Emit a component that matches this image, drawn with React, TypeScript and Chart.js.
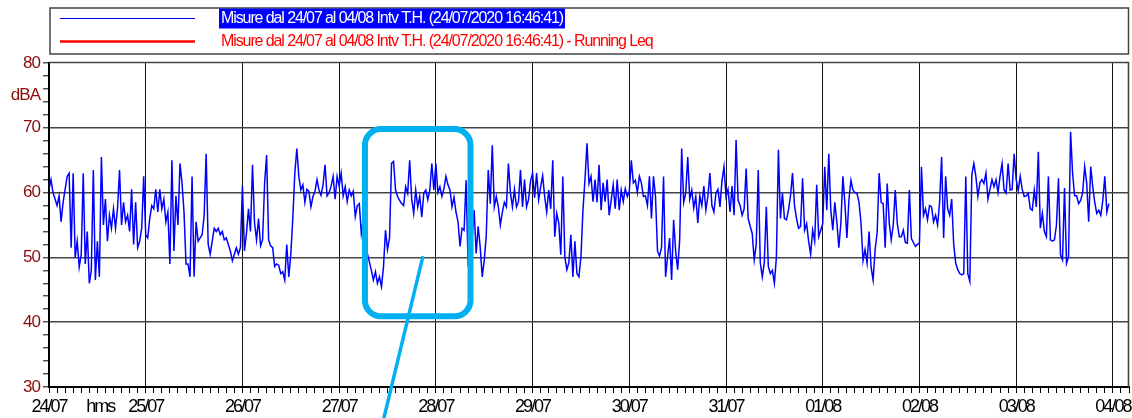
import React, { useEffect, useRef } from 'react';
import { Chart, registerables } from 'chart.js';

Chart.register(...registerables);

// ---- labels ----
const dayLabels = ['24/07', '25/07', '26/07', '27/07', '28/07', '29/07', '30/07', '31/07', '01/08', '02/08', '03/08', '04/08'];
const seriesLabel = 'Misure dal 24/07 al 04/08 Intv T.H. (24/07/2020 16:46:41)';
const runningLabel = 'Misure dal 24/07 al 04/08 Intv T.H. (24/07/2020 16:46:41) - Running Leq';
const yUnit = 'dBA';
const xUnit = 'hms';
const yMin = 30;
const yMax = 80;
const hoursMax = 268;
const stepHours = 0.5;

// ---- measured levels (dBA), one value every 30 minutes, per day ----
const d2407 = [60.5, 62, 60, 59, 58, 59.5, 55.5, 58.5, 60.5, 62.5, 63, 51.5, 63, 50, 52.5, 48.5, 50.5, 63, 49, 54, 46, 48, 63.5, 46.5, 52.5, 47, 65.5, 55, 59, 52.5, 56.5, 54.5, 57.5, 54.5, 57.5, 63.5, 55, 58.5, 55.5, 56.5, 54, 60.5, 52, 58.5, 51.5, 52.5, 54.5, 62.5];
const d2507 = [53.5, 53, 56, 58, 57.5, 60.5, 57, 60.5, 57.5, 59, 55.5, 57, 49, 65, 51, 59.5, 55, 64.5, 61.5, 57, 49, 49, 47, 62.5, 47, 55.5, 52.5, 53, 53.5, 56.5, 66, 52, 50.5, 52.5, 54.5, 54, 54.5, 53.5, 54, 52.7, 53, 52, 51, 49.5, 50.5, 51.5, 50.5, 51.5];
const d2607 = [61, 51, 53.7, 57.5, 54, 64.3, 55.3, 52.7, 56, 51.8, 52.7, 61.4, 65.8, 52.7, 51.8, 51.5, 48.6, 49, 48.8, 47.5, 47.8, 46.5, 52, 47, 50.5, 56, 63, 66.8, 62.5, 60.4, 61.2, 58.5, 60.5, 60.2, 57.8, 59.4, 60.2, 62, 60.4, 59.6, 61.2, 64.3, 59.5, 60, 61, 62.5, 59, 62.5];
const d2707 = [61, 63, 59.5, 60.9, 58.6, 60.4, 59.5, 60.2, 56.3, 58, 58.3, 53.7, 56, 58.9, 50.6, 49.3, 48, 46.5, 47.8, 46, 47, 45.5, 48.5, 54.2, 51.2, 53, 64.5, 64.8, 60.4, 59.4, 58.8, 58.3, 58, 60.9, 59.9, 65, 59, 56.8, 60.4, 57.8, 59.4, 56.2, 59.9, 60.4, 58.9, 60.4, 64.5, 60.4];
const d2807 = [64.5, 60, 60.9, 59.4, 60.6, 62.5, 61.2, 60.4, 57.8, 59.3, 57, 55.5, 51.7, 54.5, 54.2, 61.9, 48.6, 52, 53, 57.3, 50.6, 54.8, 51.6, 47, 49.5, 53.3, 63.5, 58.3, 67.3, 57.8, 59.4, 57.8, 55, 57, 58.5, 57.8, 64.5, 60, 57.8, 60.5, 57.8, 58.6, 63.5, 57.8, 62, 57.8, 58.9, 61.8];
const d2907 = [63, 59.2, 63, 58.9, 60.9, 62.6, 59.4, 57, 60.4, 57.5, 65, 53.2, 56.8, 55.3, 50.4, 62.5, 50.1, 48.1, 49.2, 53.5, 47, 52.5, 47.5, 47, 50.1, 57.3, 62, 67.6, 61.4, 62.5, 58.6, 62, 58.5, 64.3, 57.3, 61.5, 58.6, 62, 56.5, 58.8, 61.2, 57.5, 62, 57.3, 60.4, 58.6, 60.6, 59.4];
const d3007 = [60.2, 65, 61.5, 61.9, 60, 62.5, 61.5, 59.4, 59.5, 58, 62.5, 56, 62.5, 59.4, 51, 50.2, 51.5, 62.5, 47, 50.1, 53, 46.5, 55.8, 51, 48.1, 52.7, 66.8, 58.5, 59.9, 65.5, 59, 60.4, 57.6, 59.4, 55.3, 59.5, 58, 61, 57.3, 59.4, 63, 58, 57, 59.9, 60.5, 57.8, 61.8, 64];
const d3107 = [59.4, 60.5, 57, 61, 56.5, 68.1, 58.8, 58, 56.5, 57.5, 63.7, 56, 54.8, 53.7, 49.6, 52, 63.5, 49.2, 47, 49.2, 57.8, 48.6, 47.5, 48, 46, 50, 66.6, 56, 59.9, 56, 55.8, 57.3, 59.5, 63, 58, 56, 54.5, 54.8, 62.2, 54.2, 55.2, 52.5, 50.5, 54.2, 52.5, 61.2, 53.2, 54.2];
const d0108 = [55.2, 64, 57.3, 66, 57.3, 54.2, 58.5, 55.5, 51.5, 55.3, 62.5, 58.3, 53, 58.9, 61.9, 60.4, 60, 59.9, 58.5, 55.3, 49.5, 51.2, 49.1, 54, 48.5, 46.5, 51.2, 53.8, 63, 58.5, 58.3, 51.5, 61.4, 55.3, 52.7, 55, 60.4, 55.2, 53.2, 53.2, 54.2, 52.3, 52.2, 60.4, 52.9, 52.3, 51.7, 52];
const d0208 = [52.2, 64, 56.5, 57.5, 55.8, 58, 57.8, 55.5, 56.5, 55, 58.5, 65.5, 53, 62.5, 57.5, 56.5, 59, 52, 49.1, 48.1, 47.5, 47.3, 47.5, 62.5, 47.5, 46.3, 62.8, 64.5, 62.5, 59.4, 61.5, 62, 61.4, 63, 59, 60.5, 62, 60.9, 62, 60, 62.5, 64.5, 60.4, 59.9, 64.5, 60.4, 60.5, 66];
const d0308 = [62, 60.3, 62.5, 60.5, 59.4, 59.5, 59.9, 57.5, 57.3, 60.4, 57.8, 66.3, 54.5, 56.8, 54, 53.2, 62.5, 52.7, 52.5, 52.7, 55, 62.2, 50.4, 49.6, 60.7, 49.1, 50.1, 69.4, 63, 59.5, 59.5, 58.3, 58.8, 60, 64, 61.5, 55.5, 64, 60.9, 58.5, 56.8, 57.3, 56.5, 58.8, 62.5, 57, 58.3];
const runningLeq: number[] = [];

// ---- callout (in data units: hours, dBA) ----
const calloutHours = [78.4, 104.6];
const calloutDb = [69.8, 40.9];
const pointerHours = [92.8, 83.1];
const pointerDb = [50.2, 25.2];

const allDays = [d2407, d2507, d2607, d2707, d2807, d2907, d3007, d3107, d0108, d0208, d0308];
const levels = allDays.flat();
const points = levels.map((v, i) => ({ x: i * stepHours, y: v }));

const FONT = '"Liberation Sans", Arial, Helvetica, sans-serif';

const decorPlugin = {
  id: 'decor',
  beforeDraw(chart: any) {
    chart.ctx.letterSpacing = '-2px';
  },
  afterDatasetsDraw(chart: any) {
    chart.ctx.letterSpacing = '-1px';
  },
  afterDraw(chart: any) {
    const ctx = chart.ctx as CanvasRenderingContext2D & { letterSpacing: string };
    const a = chart.chartArea;
    const xs = chart.scales.x;
    const ys = chart.scales.y;
    ctx.save();

    // frame (top / right)
    ctx.strokeStyle = '#444';
    ctx.lineWidth = 1.6;
    ctx.beginPath();
    ctx.moveTo(a.left, a.top - 0.5);
    ctx.lineTo(a.right - 0.5, a.top - 0.5);
    ctx.lineTo(a.right - 0.5, a.bottom);
    ctx.stroke();

    // unit labels
    ctx.letterSpacing = '-1px';
    ctx.font = `17px ${FONT}`;
    ctx.fillStyle = '#8b0a0a';
    ctx.textAlign = 'right';
    ctx.textBaseline = 'middle';
    ctx.fillText(yUnit, a.left - 9, ys.getPixelForValue(75));
    ctx.letterSpacing = '-2px';
    ctx.font = `18px ${FONT}`;
    ctx.fillStyle = '#000';
    ctx.textAlign = 'center';
    ctx.fillText(xUnit, xs.getPixelForValue(12.7), a.bottom + 20);

    // legend box
    const ds = chart.data.datasets;
    const boxTop = 8;
    const boxBottom = a.top - 9;
    ctx.strokeStyle = '#444';
    ctx.lineWidth = 1.5;
    ctx.strokeRect(a.left + 1, boxTop, a.right - a.left - 1.5, boxBottom - boxTop);
    ctx.font = `16px ${FONT}`;
    ctx.letterSpacing = '-1.1px';
    ctx.textAlign = 'left';
    ctx.textBaseline = 'middle';
    const rows = [18, 41];
    ds.forEach((d: any, i: number) => {
      const y = rows[i];
      ctx.strokeStyle = d.borderColor;
      ctx.lineWidth = i === 0 ? 1 : 2.5;
      ctx.beginPath();
      ctx.moveTo(60, y + 0.5);
      ctx.lineTo(195, y + 0.5);
      ctx.stroke();
      if (i === 0) {
        const w = ctx.measureText(d.label).width;
        ctx.fillStyle = '#0000ff';
        ctx.fillRect(219, y - 9.5, w + 4, 20);
        ctx.fillStyle = '#ffffff';
      } else {
        ctx.fillStyle = d.borderColor;
      }
      ctx.fillText(d.label, 221, y + 1);
    });

    // callout
    const x0 = xs.getPixelForValue(calloutHours[0]);
    const x1 = xs.getPixelForValue(calloutHours[1]);
    const y0 = ys.getPixelForValue(calloutDb[0]);
    const y1 = ys.getPixelForValue(calloutDb[1]);
    ctx.strokeStyle = '#00b0f0';
    ctx.lineWidth = 6;
    ctx.beginPath();
    (ctx as any).roundRect(x0, y0, x1 - x0, y1 - y0, 16);
    ctx.stroke();
    ctx.lineWidth = 3.5;
    ctx.beginPath();
    ctx.moveTo(xs.getPixelForValue(pointerHours[0]), ys.getPixelForValue(pointerDb[0]));
    ctx.lineTo(xs.getPixelForValue(pointerHours[1]), ys.getPixelForValue(pointerDb[1]));
    ctx.stroke();

    ctx.restore();
  },
};

export default function App() {
  const ref = useRef<HTMLCanvasElement | null>(null);
  useEffect(() => {
    document.body.style.margin = '0';
    const canvas = ref.current;
    if (!canvas) return;
    const chart = new Chart(canvas, {
      type: 'line',
      data: {
        datasets: [
          { label: seriesLabel, data: points, borderColor: '#0000ff', borderWidth: 1.5, pointRadius: 0, tension: 0, fill: false },
          { label: runningLabel, data: runningLeq as any, borderColor: '#ff0000', borderWidth: 2, pointRadius: 0 },
        ],
      },
      options: {
        animation: false,
        responsive: false,
        devicePixelRatio: 1,
        layout: { padding: { top: 63, right: 2, left: 0, bottom: 0 } },
        plugins: { legend: { display: false }, tooltip: { enabled: false } },
        scales: {
          x: {
            type: 'linear',
            min: 0,
            max: hoursMax,
            afterFit: (s: any) => { s.height = 31; },
            border: { display: true, color: '#000', width: 2 },
            grid: {
              color: (c: any) => (c.tick && c.tick.value % 24 === 0 && c.tick.value > 0 ? '#111' : 'rgba(0,0,0,0)'),
              lineWidth: 1,
              tickColor: '#000',
              tickLength: 6,
              drawTicks: true,
            },
            ticks: {
              stepSize: 2,
              autoSkip: false,
              maxRotation: 0,
              minRotation: 0,
              padding: 3,
              color: '#000',
              font: { family: FONT, size: 18 },
              callback: (v: any) => (Number(v) % 24 === 0 ? dayLabels[Number(v) / 24] : ''),
            },
          },
          y: {
            min: yMin,
            max: yMax,
            afterFit: (s: any) => { s.width = 49; },
            border: { display: true, color: '#000', width: 2 },
            grid: {
              color: (c: any) => (c.tick && c.tick.value % 10 === 0 && c.tick.value > yMin && c.tick.value < yMax ? '#444' : 'rgba(0,0,0,0)'),
              lineWidth: 1.6,
              tickColor: '#000',
              tickWidth: 1,
              tickLength: 6,
            },
            ticks: {
              stepSize: 2,
              autoSkip: false,
              padding: 3,
              z: 1,
              color: '#8b0a0a',
              font: { family: FONT, size: 17 },
              callback: (v: any) => (Number(v) % 10 === 0 ? String(v) : ''),
            },
          },
        },
      },
      plugins: [decorPlugin],
    } as any);
    return () => chart.destroy();
  }, []);
  return (
    <div style={{ position: 'absolute', left: 0, top: 0, width: 1132, height: 418 }}>
      <canvas ref={ref} width={1132} height={418} style={{ display: 'block' }} />
    </div>
  );
}
